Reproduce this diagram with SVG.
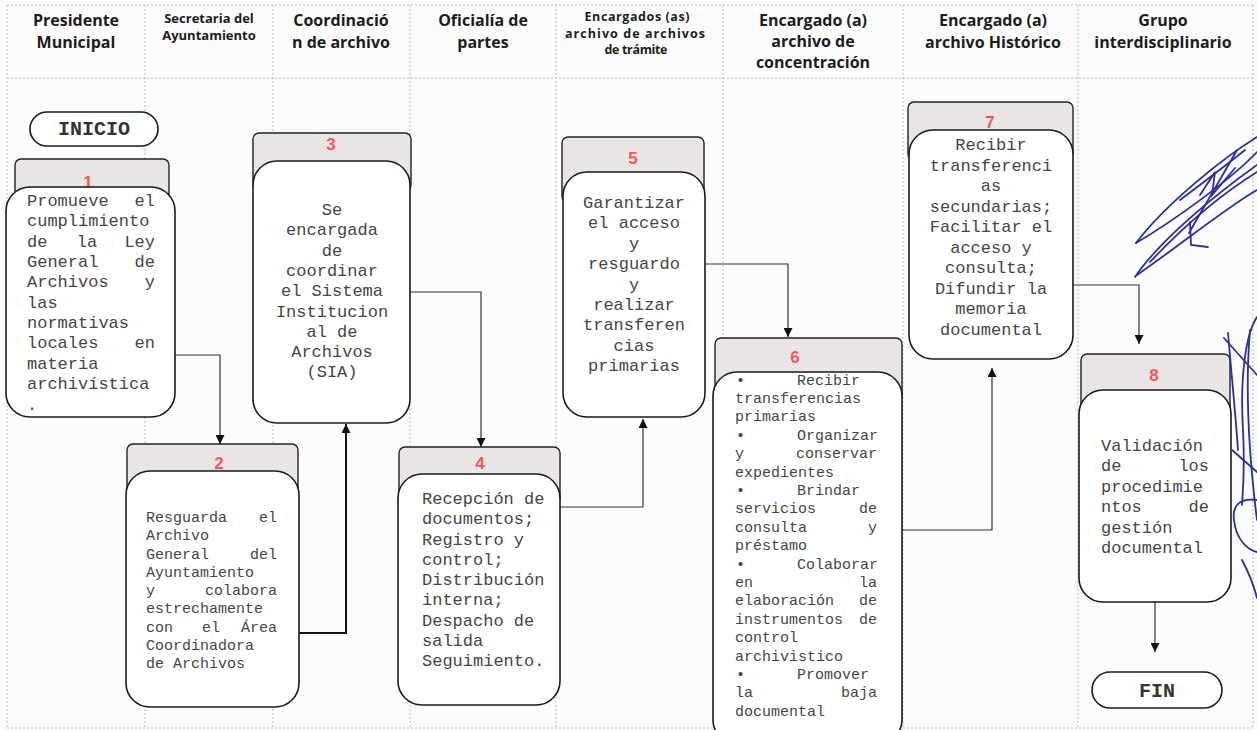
<svg xmlns="http://www.w3.org/2000/svg" width="1257" height="730" viewBox="0 0 1257 730">
<defs>
<style>
.grid{stroke:#bdbdbd;stroke-width:1;stroke-dasharray:2 2;fill:none}
.h{font-family:"Open Sans",Lato,"DejaVu Sans",sans-serif;font-weight:700;fill:#1c1c1c;text-anchor:middle}
.h15{font-size:16px}
.h12{font-size:13px}
.h11{font-size:12.5px}
.tab{fill:url(#stip);stroke:#222;stroke-width:1.4}
.box{fill:#fff;stroke:#1a1a1a;stroke-width:1.6}
.num{font-family:"Liberation Sans",Arial,sans-serif;font-weight:700;font-size:17px;fill:#f05a5a;text-anchor:middle}
.t{font-family:"Liberation Mono","Courier New",monospace;font-size:17px;fill:#454545}
.s{font-size:15px}
.e{text-anchor:end}
.m{text-anchor:middle}
.pill{fill:#fff;stroke:#1a1a1a;stroke-width:1.6}
.pt{font-family:"Liberation Mono","Courier New",monospace;font-size:20px;font-weight:700;fill:#333;text-anchor:middle}
.con{fill:none;stroke:#333;stroke-width:1.2}
.sig{fill:none;stroke:#2b2f9e;stroke-width:1.8;stroke-linecap:round}
</style>
<pattern id="stip" width="4" height="4" patternUnits="userSpaceOnUse">
<rect width="4" height="4" fill="#ece8e8"/>
<rect x="1" y="1" width="1" height="1" fill="#d6d0d0"/>
<rect x="3" y="3" width="1" height="1" fill="#dcd6d6"/>
</pattern>
<marker id="arr" viewBox="0 0 10 10" refX="10" refY="5" markerWidth="9" markerHeight="9" markerUnits="userSpaceOnUse" orient="auto">
<path d="M0,0 L10,5 L0,10 z" fill="#111"/>
</marker>
</defs>
<rect width="1257" height="730" fill="#fcfcfd"/>
<g id="grid">
<path class="grid" d="M7,5 H1253 M7,78 H1253 M7,728 H1253 M7,5 V728 M1253,5 V728 M145,5 V728 M273,5 V728 M410,5 V728 M556,5 V728 M723,5 V728 M903,5 V728 M1078,5 V728"/>
</g>
<g id="header">
<text class="h h15" x="76" y="26">Presidente</text>
<text class="h h15" x="76" y="48">Municipal</text>
<text class="h h12" x="209" y="23">Secretaria del</text>
<text class="h h12" x="209" y="40">Ayuntamiento</text>
<text class="h h15" x="341" y="26">Coordinació</text>
<text class="h h15" x="341" y="48">n de archivo</text>
<text class="h h15" x="483" y="26">Oficialía de</text>
<text class="h h15" x="483" y="48">partes</text>
<text class="h h11" x="637" y="21" textLength="105" lengthAdjust="spacing">Encargados (as)</text>
<text class="h h11" x="635" y="38" textLength="140" lengthAdjust="spacing">archivo de archivos</text>
<text class="h h11" x="636" y="54" textLength="63" lengthAdjust="spacing">de trámite</text>
<text class="h h15" x="813" y="26">Encargado (a)</text>
<text class="h h15" x="813" y="47">archivo de</text>
<text class="h h15" x="813" y="68">concentración</text>
<text class="h h15" x="993" y="26">Encargado (a)</text>
<text class="h h15" x="993" y="48">archivo Histórico</text>
<text class="h h15" x="1163" y="26">Grupo</text>
<text class="h h15" x="1163" y="48">interdisciplinario</text>
</g>
<g id="connectors">
<path class="con" d="M175,355 H220 V444" marker-end="url(#arr)"/>
<path class="con" style="stroke-width:2;stroke:#111" d="M299,633 H346 V424" marker-end="url(#arr)"/>
<path class="con" d="M410,292 H481 V447" marker-end="url(#arr)"/>
<path class="con" d="M560,507 H643 V419" marker-end="url(#arr)"/>
<path class="con" d="M705,264 H788 V337" marker-end="url(#arr)"/>
<path class="con" d="M902,530 H992 V368" marker-end="url(#arr)"/>
<path class="con" d="M1073,285 H1139 V344" marker-end="url(#arr)"/>
<path class="con" d="M1155,602 V652" marker-end="url(#arr)"/>
</g>
<g id="inicio">
<rect class="pill" x="30" y="112" width="128" height="34" rx="17"/>
<text class="pt" x="94" y="135">INICIO</text>
</g>
<g id="n1">
<rect class="tab" x="15" y="159" width="154" height="58" rx="6"/>
<text class="num" x="88" y="188">1</text>
<rect class="box" x="6" y="187" width="169" height="230" rx="24"/>
<text class="t" x="27" y="206">Promueve</text><text class="t e" x="155" y="206">el</text>
<text class="t" x="27" y="226">cumplimiento</text>
<text class="t" x="27" y="246.5">de</text><text class="t m" x="87" y="246.5">la</text><text class="t e" x="155" y="246.5">Ley</text>
<text class="t" x="27" y="267">General</text><text class="t e" x="155" y="267">de</text>
<text class="t" x="27" y="287">Archivos</text><text class="t e" x="155" y="287">y</text>
<text class="t" x="27" y="307.5">las</text>
<text class="t" x="27" y="328">normativas</text>
<text class="t" x="27" y="348">locales</text><text class="t e" x="155" y="348">en</text>
<text class="t" x="27" y="369">materia</text>
<text class="t" x="27" y="389">archivística</text>
<text class="t" x="27" y="409.5">.</text>
</g>
<g id="n2">
<rect class="tab" x="127" y="444" width="171" height="57" rx="6"/>
<text class="num" x="219" y="469">2</text>
<rect class="box" x="126" y="471" width="173" height="236" rx="24"/>
<text class="t s" x="146" y="522">Resguarda</text><text class="t s e" x="277" y="522">el</text>
<text class="t s" x="146" y="540.3">Archivo</text>
<text class="t s" x="146" y="558.5">General</text><text class="t s e" x="277" y="558.5">del</text>
<text class="t s" x="146" y="576.8">Ayuntamiento</text>
<text class="t s" x="146" y="595">y</text><text class="t s e" x="277" y="595">colabora</text>
<text class="t s" x="146" y="613.3">estrechamente</text>
<text class="t s" x="146" y="631.5">con</text><text class="t s m" x="211" y="631.5">el</text><text class="t s e" x="277" y="631.5">Área</text>
<text class="t s" x="146" y="649.8">Coordinadora</text>
<text class="t s" x="146" y="668">de Archivos</text>
</g>
<g id="n3">
<rect class="tab" x="253" y="133" width="158" height="58" rx="6"/>
<text class="num" x="331" y="150">3</text>
<rect class="box" x="253" y="161" width="157" height="262" rx="24"/>
<text class="t m" x="332" y="215">Se</text>
<text class="t m" x="332" y="235.3">encargada</text>
<text class="t m" x="332" y="255.6">de</text>
<text class="t m" x="332" y="275.9">coordinar</text>
<text class="t m" x="332" y="296.2">el Sistema</text>
<text class="t m" x="332" y="316.5">Institucion</text>
<text class="t m" x="332" y="336.8">al de</text>
<text class="t m" x="332" y="357.1">Archivos</text>
<text class="t m" x="332" y="377.4">(SIA)</text>
</g>
<g id="n4">
<rect class="tab" x="399" y="447" width="161" height="57" rx="6"/>
<text class="num" x="480" y="469">4</text>
<rect class="box" x="398" y="474" width="162" height="231" rx="24"/>
<text class="t" x="422" y="504">Recepción de</text>
<text class="t" x="422" y="524.3">documentos;</text>
<text class="t" x="422" y="544.5">Registro y</text>
<text class="t" x="422" y="564.8">control;</text>
<text class="t" x="422" y="585">Distribución</text>
<text class="t" x="422" y="605.3">interna;</text>
<text class="t" x="422" y="625.5">Despacho de</text>
<text class="t" x="422" y="645.8">salida</text>
<text class="t" x="422" y="666">Seguimiento.</text>
</g>
<g id="n5">
<rect class="tab" x="562" y="137" width="142" height="65" rx="6"/>
<text class="num" x="633" y="164">5</text>
<rect class="box" x="563" y="172" width="142" height="245" rx="24"/>
<text class="t m" x="634" y="208">Garantizar</text>
<text class="t m" x="634" y="228.4">el acceso</text>
<text class="t m" x="634" y="248.8">y</text>
<text class="t m" x="634" y="269.2">resguardo</text>
<text class="t m" x="634" y="289.6">y</text>
<text class="t m" x="634" y="310">realizar</text>
<text class="t m" x="634" y="330.4">transferen</text>
<text class="t m" x="634" y="350.8">cias</text>
<text class="t m" x="634" y="371.2">primarias</text>
</g>
<g id="n6">
<rect class="tab" x="715" y="338" width="187" height="64" rx="6"/>
<text class="num" x="795" y="363">6</text>
<rect class="box" x="713" y="372" width="189" height="372" rx="24"/>
<text class="t s" x="736" y="384.5">•</text><text class="t s" x="797" y="384.5">Recibir</text>
<text class="t s" x="735" y="402.9">transferencias</text>
<text class="t s" x="735" y="421.3">primarias</text>
<text class="t s" x="736" y="439.7">•</text><text class="t s" x="797" y="439.7">Organizar</text>
<text class="t s" x="735" y="458.1">y</text><text class="t s e" x="877" y="458.1">conservar</text>
<text class="t s" x="735" y="476.5">expedientes</text>
<text class="t s" x="736" y="494.9">•</text><text class="t s" x="797" y="494.9">Brindar</text>
<text class="t s" x="735" y="513.3">servicios</text><text class="t s e" x="877" y="513.3">de</text>
<text class="t s" x="735" y="531.7">consulta</text><text class="t s e" x="877" y="531.7">y</text>
<text class="t s" x="735" y="550.1">préstamo</text>
<text class="t s" x="736" y="568.5">•</text><text class="t s" x="797" y="568.5">Colaborar</text>
<text class="t s" x="735" y="586.9">en</text><text class="t s e" x="877" y="586.9">la</text>
<text class="t s" x="735" y="605.3">elaboración</text><text class="t s e" x="877" y="605.3">de</text>
<text class="t s" x="735" y="623.7">instrumentos</text><text class="t s e" x="877" y="623.7">de</text>
<text class="t s" x="735" y="642.1">control</text>
<text class="t s" x="735" y="660.5">archivistico</text>
<text class="t s" x="736" y="678.9">•</text><text class="t s" x="797" y="678.9">Promover</text>
<text class="t s" x="735" y="697.3">la</text><text class="t s e" x="877" y="697.3">baja</text>
<text class="t s" x="735" y="715.7">documental</text>
</g>
<g id="n7">
<rect class="tab" x="908" y="102" width="165" height="58" rx="6"/>
<text class="num" x="990" y="128">7</text>
<rect class="box" x="909" y="130" width="164" height="229" rx="24"/>
<text class="t m" x="991" y="150">Recibir</text>
<text class="t m" x="991" y="170.6">transferenci</text>
<text class="t m" x="991" y="191.1">as</text>
<text class="t m" x="991" y="211.7">secundarias;</text>
<text class="t m" x="991" y="232.2">Facilitar el</text>
<text class="t m" x="991" y="252.8">acceso y</text>
<text class="t m" x="991" y="273.3">consulta;</text>
<text class="t m" x="991" y="293.9">Difundir la</text>
<text class="t m" x="991" y="314.4">memoria</text>
<text class="t m" x="991" y="335">documental</text>
</g>
<g id="n8">
<rect class="tab" x="1081" y="354" width="149" height="66" rx="6"/>
<text class="num" x="1154" y="381">8</text>
<rect class="box" x="1079" y="390" width="152" height="212" rx="24"/>
<text class="t" x="1101" y="451">Validación</text>
<text class="t" x="1101" y="471.4">de</text><text class="t e" x="1209" y="471.4">los</text>
<text class="t" x="1101" y="491.8">procedimie</text>
<text class="t" x="1101" y="512.2">ntos</text><text class="t e" x="1209" y="512.2">de</text>
<text class="t" x="1101" y="532.6">gestión</text>
<text class="t" x="1101" y="553">documental</text>
</g>
<g id="fin">
<rect class="pill" x="1092" y="672" width="130" height="36" rx="18"/>
<text class="pt" x="1157" y="697">FIN</text>
</g>
<g id="signature">
<path class="sig" d="M1136,243 C1165,205 1220,160 1257,137"/>
<path class="sig" d="M1136,243 C1175,220 1230,180 1257,152"/>
<path class="sig" d="M1135,277 C1160,240 1215,195 1257,165"/>
<path class="sig" d="M1137,275 C1180,245 1230,205 1257,190"/>
<path class="sig" d="M1150,262 C1185,225 1220,195 1257,172"/>
<path class="sig" d="M1180,200 C1200,185 1220,170 1245,150"/>
<path class="sig" d="M1189,233 C1205,205 1220,180 1237,150"/>
<path class="sig" d="M1190,222 L1191,245 L1208,247"/>
<path class="sig" d="M1200,195 L1215,172 L1212,195 L1235,168"/>
<path class="sig" d="M1257,317 C1245,335 1240,380 1243,430 C1245,470 1243,490 1242,505"/>
<path class="sig" d="M1224,338 L1257,375"/>
<path class="sig" d="M1228,333 C1232,380 1236,420 1238,450"/>
<path class="sig" d="M1232,450 L1257,472"/>
<path class="sig" d="M1257,500 C1240,498 1232,505 1234,520 C1236,540 1248,550 1257,552"/>
<path class="sig" d="M1250,330 C1244,400 1252,480 1257,520"/>
<path class="sig" d="M1242,560 C1250,575 1255,590 1257,598"/>
</g>
</svg>
